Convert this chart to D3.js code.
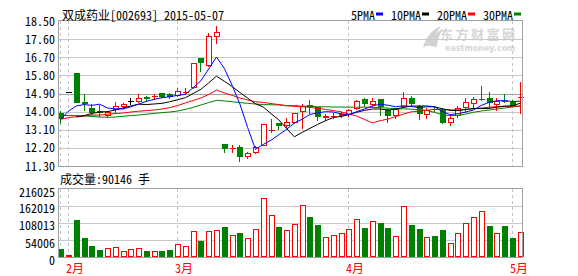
<!DOCTYPE html>
<html><head><meta charset="utf-8">
<script src="https://cdn.jsdelivr.net/npm/d3@7"></script>
<style>
html,body{margin:0;padding:0;background:#fff;}
svg{display:block;}
text{font-family:"Noto Sans Mono CJK SC","Noto Sans CJK SC","DejaVu Sans Mono",monospace;font-size:12px;}
</style></head><body>
<svg id="c" width="578" height="276"></svg>
<script>
// ---------- data ----------
const open  = [13.92,14.97,15.93,14.48,14.18,14.02,13.83,14.12,14.26,14.54, 14.54,14.73,14.78,14.91,14.86,14.83,14.95,15.20,16.65,16.30, 17.75,12.38,12.18,12.23,11.78,11.98,12.34,13.08,13.44,13.36, 13.50,14.03,14.31,14.21,13.74,13.77,13.85,13.87,14.16,14.61, 14.38,14.63,14.09,13.83,14.28,14.66,14.26,13.88,14.15,14.07, 13.46,13.83,14.22,14.45,14.62,14.66,14.36,14.54,14.49,14.73];
const high  = [14.03,14.97,15.93,14.86,14.40,14.35,14.03,14.49,14.44,14.69, 14.88,14.79,14.88,14.92,14.92,15.16,15.16,16.41,16.66,17.88, 18.25,12.39,12.34,12.34,12.01,12.29,13.39,13.63,13.44,13.67, 13.93,14.40,14.58,14.24,13.86,13.91,14.00,14.11,14.56,14.66, 14.66,14.65,14.17,14.17,14.96,14.78,14.33,14.20,14.22,14.16, 13.83,14.28,14.66,14.71,15.27,14.99,14.69,14.88,14.58,15.49];
const low   = [13.45,14.97,14.48,14.08,13.86,13.78,13.73,14.00,14.17,14.38, 14.49,14.53,14.63,14.71,14.69,14.79,14.91,15.19,16.04,16.29, 17.39,11.98,12.01,11.56,11.68,11.95,12.32,12.97,13.14,13.25, 13.44,13.21,13.91,13.60,13.58,13.67,13.75,13.78,14.12,14.30, 14.28,13.83,13.50,13.67,14.24,14.33,13.62,13.67,14.05,13.42, 13.34,13.75,14.00,14.17,14.58,14.24,14.08,14.49,14.28,13.92];
const close = [13.70,14.97,14.48,14.45,13.97,14.00,14.00,14.28,14.38,14.54, 14.66,14.70,14.79,14.78,14.78,15.00,14.97,16.40,16.48,17.74, 17.97,12.18,12.19,11.80,11.93,12.26,13.37,13.09,13.34,13.47, 13.91,14.29,14.28,13.77,13.76,13.78,13.87,14.06,14.51,14.41, 14.55,14.30,13.83,14.12,14.66,14.41,13.92,14.08,14.13,13.46, 13.70,14.16,14.46,14.61,14.63,14.46,14.54,14.52,14.33,14.75];
const volume = [25400,6400,117500,61300,35000,22200,29500,30800,19100,25400, 27600,19100,19100,19100,22200,40300,35000,82600,50800,82600, 85800,95300,68900,76200,59400,89000,186500,133400,95300,85800, 103900,164200,127100,101700,62600,68900,75300,89000,119800,92100, 114400,107100,92100,65800,161100,101700,89000,62600,66700,85800, 43500,75300,107100,126100,147100,98500,75300,98500,60400,78500];
const ma5  = [13.63,14.03,14.28,14.35,14.31,14.37,14.18,14.14,14.13,14.24, 14.37,14.51,14.61,14.69,14.74,14.81,14.86,15.19,15.53,16.12, 16.71,16.15,15.31,14.38,13.21,12.13,12.37,12.58,12.85,13.12, 13.44,13.62,13.86,13.94,14.00,13.98,13.89,13.85,14.00,14.13, 14.28,14.37,14.32,14.24,14.29,14.26,14.19,14.24,14.24,14.00, 13.85,13.90,13.98,14.08,14.31,14.46,14.54,14.55,14.50,14.52];
const ma10 = [null,null,13.73,13.80,13.91,13.98,14.00,14.08,14.18,14.28, 14.37,14.35,14.38,14.41,14.49,14.59,14.69,14.90,15.11,15.43, 15.76,15.51,15.25,14.95,14.67,14.39,14.23,13.90,13.59,13.16, 12.75,12.97,13.17,13.37,13.55,13.71,13.76,13.85,13.97,14.06, 14.13,14.13,14.08,14.12,14.21,14.27,14.28,14.28,14.24,14.14, 14.06,14.05,14.11,14.16,14.15,14.16,14.22,14.27,14.29,14.42];
const ma20 = [13.62,13.70,13.75,13.78,13.83,13.83,13.87,13.90,13.93,13.98, 14.02,14.05,14.08,14.13,14.20,14.30,14.43,14.55,14.68,14.85, 15.07,14.93,14.81,14.68,14.58,14.49,14.46,14.40,14.35,14.30, 14.26,14.24,14.21,14.16,14.11,14.05,13.99,13.88,13.78,13.61, 13.44,13.55,13.63,13.75,13.88,13.99,14.02,14.07,14.11,14.10, 14.09,14.09,14.10,14.14,14.18,14.22,14.25,14.27,14.26,14.28];
const ma30 = [13.81,13.81,13.80,13.79,13.76,13.73,13.72,13.73,13.77,13.80, 13.83,13.87,13.91,13.95,13.98,14.03,14.11,14.21,14.33,14.45, 14.56,14.53,14.49,14.45,14.41,14.38,14.35,14.34,14.33,14.29, 14.30,14.27,14.27,14.24,14.24,14.23,14.23,14.22,14.22,14.22, 14.21,14.20,14.17,14.15,14.14,14.12,14.09,14.06,13.96,13.85, 13.80,13.82,13.88,13.97,14.03,14.08,14.13,14.18,14.23,14.28];
const priceTicks = [11.30,12.20,13.10,14.00,14.90,15.80,16.70,17.60,18.50];
const volTicks = [0,54006,108013,162019,216025];
const monthIdx = [1,15,37,58];
const monthLabels = ["2月","3月","4月","5月"];
const dashIdx = [0,1,15,37,58];
const titleText = "双成药业[002693] 2015-05-07";
const volText = "成交量:90146 手";
const legendNames = ["5PMA","10PMA","20PMA","30PMA"];
const legendColors = ["#0000ff","#000000","#ff0000","#008000"];
const watermarkLines = ["东方财富网","eastmoney.com"];

// ---------- layout ----------
const L=59, Rt=522, T=21, B=166, VT=189, VB=257;
const RED="#ff0000", GRN="#008000";
const svg=d3.select("#c");
const N=close.length;
const x=d3.scaleBand().domain(d3.range(N)).range([56.8,524.2]);
const cx=i=>Math.floor(x(i)+x.bandwidth()/2)+0.5;
const y=d3.scaleLinear().domain([priceTicks[0],priceTicks[priceTicks.length-1]]).range([B,T]);
const yv=d3.scaleLinear().domain([0,volTicks[volTicks.length-1]]).range([VB,VT]);

// watermark
const wm=svg.append("g").attr("fill","#d6d6d6");
wm.append("path").attr("d","M423,47 C426,38 431,30 441,26 C436,33 433,39 432,45 Z M430,46 C433,37 437,31 443,29 C439,35 437,41 437,47 Z").attr("fill","#d2d2d2");
wm.append("text").attr("x",440).attr("y",39).style("font-weight","bold")
  .style("font-family","'Noto Sans CJK SC'").style("font-size","13px").style("letter-spacing","2.5px").text(watermarkLines[0]);
wm.append("text").attr("x",445).attr("y",51).style("font-weight","bold")
  .style("font-family","'DejaVu Sans'").style("font-size","8px").text(watermarkLines[1]);

// grid - main
const grid=svg.append("g");
priceTicks.slice(1,-1).forEach(p=>{
  const yy=Math.round(y(p))+0.5;
  grid.append("line").attr("x1",L).attr("x2",Rt).attr("y1",yy).attr("y2",yy)
    .attr("stroke", p===14.90?"#a0a0a0":"#c8c8c8");
});
volTicks.slice(1,-1).forEach(v=>{
  const yy=Math.round(yv(v))+0.5;
  grid.append("line").attr("x1",L).attr("x2",Rt).attr("y1",yy).attr("y2",yy).attr("stroke","#c8c8c8");
});
dashIdx.forEach(i=>{
  const xx=cx(i);
  grid.append("line").attr("x1",xx).attr("x2",xx).attr("y1",T).attr("y2",B)
    .attr("stroke","#c4c4c4").attr("stroke-dasharray","3,3");
  grid.append("line").attr("x1",xx).attr("x2",xx).attr("y1",VT).attr("y2",VB)
    .attr("stroke","#c4c4c4").attr("stroke-dasharray","3,3");
});

// candles
const gC=svg.append("g");
d3.range(N).forEach(i=>{
  const c=cx(i), o=open[i], cl=close[i];
  const col = cl>o?RED:(cl<o?GRN:"#000");
  const yt=Math.round(y(Math.max(o,cl)))+0.5, yb=Math.round(y(Math.min(o,cl)))+0.5;
  const yh=Math.round(y(high[i]))+0.5, yl=Math.round(y(low[i]))+0.5;
  if(yh<yt) gC.append("line").attr("x1",c).attr("x2",c).attr("y1",yh-0.5).attr("y2",yt).attr("stroke",col);
  if(yl>yb) gC.append("line").attr("x1",c).attr("x2",c).attr("y1",yb).attr("y2",yl+0.5).attr("stroke",col);
  if(yb-yt<1){
    gC.append("line").attr("x1",c-2.5).attr("x2",c+3.5).attr("y1",yt).attr("y2",yt).attr("stroke",col);
  } else if(col===RED){
    gC.append("rect").attr("x",c-2).attr("y",yt).attr("width",5).attr("height",yb-yt)
      .attr("fill","#fff").attr("stroke",RED);
  } else {
    gC.append("rect").attr("x",c-2.5).attr("y",yt-0.5).attr("width",6).attr("height",yb-yt+1).attr("fill",col);
  }
});

// volume bars
const gV=svg.append("g");
d3.range(N).forEach(i=>{
  const c=cx(i), up=close[i]>=open[i];
  const yt=Math.round(yv(volume[i]));
  if(up){
    gV.append("rect").attr("x",c-2).attr("y",yt+0.5).attr("width",5).attr("height",Math.max(0.5,VB-yt-1))
      .attr("fill","#fff").attr("stroke",RED);
  } else {
    gV.append("rect").attr("x",c-2.5).attr("y",yt).attr("width",6).attr("height",VB-yt).attr("fill",GRN);
  }
});

// MA lines
svg.append("clipPath").attr("id","clipM").append("rect").attr("x",L).attr("y",T).attr("width",Rt-L).attr("height",B-T);
const gL=svg.append("g").attr("clip-path","url(#clipM)");
const line=d3.line().defined(d=>d!=null).x((d,i)=>x(i)+x.bandwidth()/2).y(d=>y(d));
[[ma30,GRN],[ma20,RED],[ma10,"#000"],[ma5,"#0000ff"]].forEach(([arr,col])=>{
  gL.append("path").datum(arr).attr("d",line).attr("fill","none").attr("stroke",col).attr("stroke-width",1);
});

// frames
svg.append("rect").attr("x",L-0.5).attr("y",T-0.5).attr("width",Rt-L+1).attr("height",B-T+1).attr("fill","none").attr("stroke","#a0a0a0");
svg.append("rect").attr("x",L-0.5).attr("y",VT-0.5).attr("width",Rt-L+1).attr("height",VB-VT+1).attr("fill","none").attr("stroke","#a0a0a0");

// axis labels
const gA=svg.append("g").attr("fill","#000");
priceTicks.forEach(p=>{
  gA.append("text").attr("x",55).attr("y",y(p)-1).attr("text-anchor","end").attr("dominant-baseline","central").text(p.toFixed(2));
});
volTicks.forEach(v=>{
  gA.append("text").attr("x",55).attr("y",yv(v)+2).attr("text-anchor","end").attr("dominant-baseline","central").text(v);
});
monthIdx.forEach((i,k)=>{
  gA.append("text").attr("x",cx(i)-2.5).attr("y",267).attr("fill",RED).attr("dominant-baseline","central").text(monthLabels[k]);
});

// titles
svg.append("text").attr("x",62).attr("y",14.5).attr("dominant-baseline","central").text(titleText);
svg.append("text").attr("x",60).attr("y",178).attr("dominant-baseline","central").text(volText);

// legend
let lx=351;
legendNames.forEach((n,k)=>{
  const t=svg.append("text").attr("x",lx).attr("y",14).attr("dominant-baseline","central").text(n);
  const w=t.node().getComputedTextLength();
  svg.append("rect").attr("x",Math.round(lx+w+1)).attr("y",12.5).attr("width",7).attr("height",3).attr("fill",legendColors[k]);
  lx=Math.round(lx+w+1+7+8);
});
</script>
</body></html>
